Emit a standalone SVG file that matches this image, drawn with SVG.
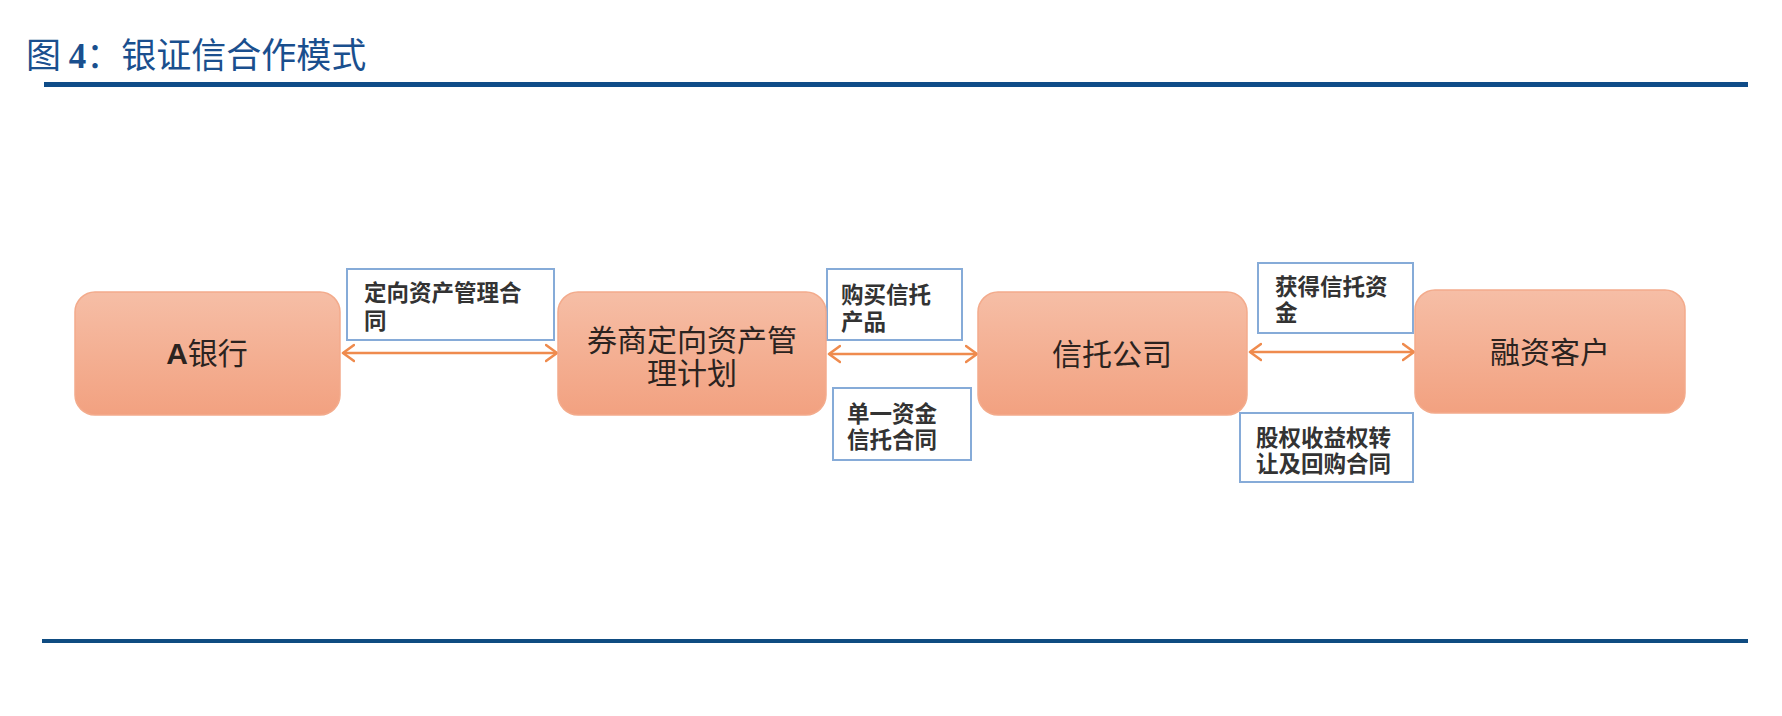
<svg xmlns="http://www.w3.org/2000/svg" width="1782" height="716" viewBox="0 0 1782 716">
<defs>
<linearGradient id="nodeGrad" x1="0" y1="0" x2="0" y2="1">
<stop offset="0" stop-color="#f6bea6"/>
<stop offset="1" stop-color="#f2a180"/>
</linearGradient>
<marker id="chev" viewBox="0 0 14 20" markerWidth="14" markerHeight="20" refX="12" refY="10" orient="auto-start-reverse" markerUnits="userSpaceOnUse">
<path d="M1,2 L12,10 L1,18" fill="none" stroke="#ef8b4e" stroke-width="2.6" stroke-linecap="round" stroke-linejoin="round"/>
</marker>
</defs>
<style>
.node{fill:url(#nodeGrad);stroke:#f3ab8c;stroke-width:1.5}
.ntext{font-family:"Noto Sans CJK SC","Liberation Sans",sans-serif;font-size:30px;fill:#2b2320;text-anchor:middle}
.lbox{fill:#ffffff;stroke:#86abd8;stroke-width:2}
.ltext{font-family:"Noto Sans CJK SC","Liberation Serif",serif;font-size:22.5px;font-weight:700;fill:#333333}
.conn{stroke:#ef8b4e;stroke-width:2.6;fill:none;marker-start:url(#chev);marker-end:url(#chev)}
.title{font-family:"Noto Sans CJK SC","Liberation Serif",serif;font-size:35px;fill:#1a4f8e}
</style>
<rect width="1782" height="716" fill="#ffffff"/>
<g id="header">
<text class="title" x="26" y="68">图 <tspan font-family="Liberation Serif" font-weight="700">4</tspan>：银证信合作模式</text>
<rect x="44" y="82" width="1704" height="5" fill="#0f4c88"/>
</g>
<g id="footer">
<rect x="42" y="639" width="1706" height="4" fill="#0f4c81"/>
</g>
<g id="connectors">
<line class="conn" x1="343" y1="353" x2="557" y2="353"/>
<line class="conn" x1="829" y1="354" x2="977" y2="354"/>
<line class="conn" x1="1250" y1="352" x2="1414" y2="352"/>
</g>
<g id="label1">
<rect class="lbox" x="347" y="269" width="207" height="71"/>
<text class="ltext" x="364" y="301">定向资产管理合<tspan x="364" dy="28">同</tspan></text>
</g>
<g id="label2">
<rect class="lbox" x="827" y="269" width="135" height="71"/>
<text class="ltext" x="841" y="303">购买信托<tspan x="841" dy="27">产品</tspan></text>
</g>
<g id="label3">
<rect class="lbox" x="833" y="388" width="138" height="72"/>
<text class="ltext" x="847" y="422">单一资金<tspan x="847" dy="26">信托合同</tspan></text>
</g>
<g id="label4">
<rect class="lbox" x="1258" y="263" width="155" height="70"/>
<text class="ltext" x="1275" y="295">获得信托资<tspan x="1275" dy="26">金</tspan></text>
</g>
<g id="label5">
<rect class="lbox" x="1240" y="413" width="173" height="69"/>
<text class="ltext" x="1256" y="446">股权收益权转<tspan x="1256" dy="26">让及回购合同</tspan></text>
</g>
<g id="nodeA">
<rect class="node" x="75" y="292" width="265" height="123" rx="20" ry="20"/>
<text class="ntext" x="207" y="364" font-size="28"><tspan font-family="Liberation Sans" font-weight="700">A</tspan>银行</text>
</g>
<g id="nodeB">
<rect class="node" x="558" y="292" width="268" height="123" rx="20" ry="20"/>
<text class="ntext" x="692" y="351">券商定向资产管<tspan x="692" dy="33">理计划</tspan></text>
</g>
<g id="nodeC">
<rect class="node" x="978" y="292" width="269" height="123" rx="20" ry="20"/>
<text class="ntext" x="1112" y="365">信托公司</text>
</g>
<g id="nodeD">
<rect class="node" x="1415" y="290" width="270" height="123" rx="20" ry="20"/>
<text class="ntext" x="1550" y="363">融资客户</text>
</g>
</svg>
